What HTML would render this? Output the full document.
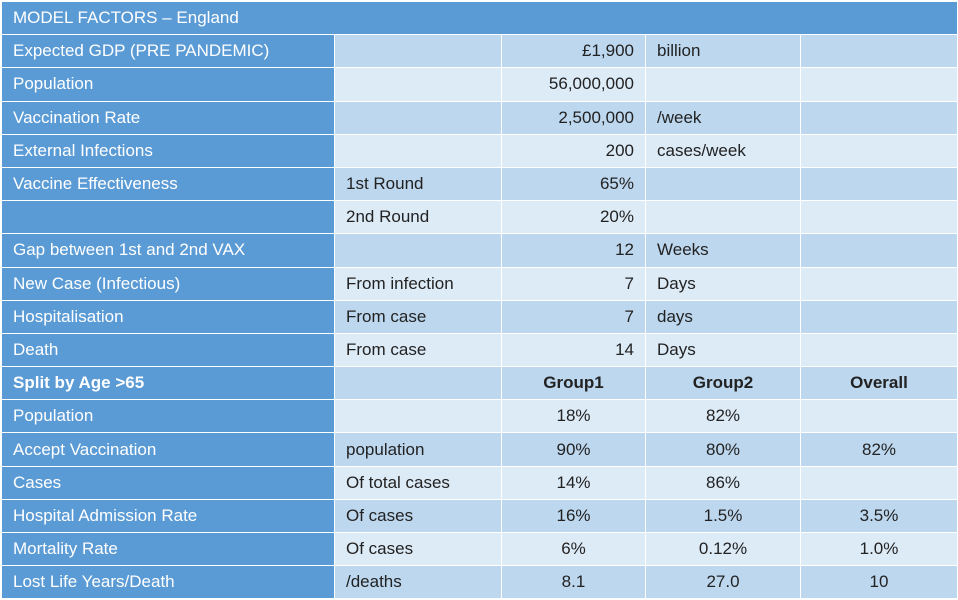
<!DOCTYPE html>
<html><head><meta charset="utf-8"><style>
html,body{margin:0;padding:0;background:#fff;width:958px;height:600px;overflow:hidden}
table{position:absolute;left:1px;top:1px;width:956px;height:598px;border-collapse:collapse;table-layout:fixed;font-family:"Liberation Sans",sans-serif;font-size:17px;color:#222}
tr{height:33.2px}
td{padding:0 11px;border:1px solid #fff;white-space:nowrap;overflow:hidden;box-sizing:border-box}
td.h{background:#5b9bd5;color:#fff}
tr.d td{background:#bdd7ee}
tr.l td{background:#ddebf7}
tr td.h{background:#5b9bd5}
.r{text-align:right}.c{text-align:center}.b{font-weight:bold}
tr.t td{background:#5b9bd5;color:#fff}
</style></head><body>
<table>
<colgroup><col style="width:333px"><col style="width:167px"><col style="width:144px"><col style="width:155px"><col style="width:157px"></colgroup>
<tr class="t"><td colspan="5">MODEL FACTORS – England</td></tr>
<tr class="d"><td class="h">Expected GDP (PRE PANDEMIC)</td><td></td><td class="r">£1,900</td><td>billion</td><td></td></tr>
<tr class="l"><td class="h">Population</td><td></td><td class="r">56,000,000</td><td></td><td></td></tr>
<tr class="d"><td class="h">Vaccination Rate</td><td></td><td class="r">2,500,000</td><td>/week</td><td></td></tr>
<tr class="l"><td class="h">External Infections</td><td></td><td class="r">200</td><td>cases/week</td><td></td></tr>
<tr class="d"><td class="h">Vaccine Effectiveness</td><td>1st Round</td><td class="r">65%</td><td></td><td></td></tr>
<tr class="l"><td class="h"></td><td>2nd Round</td><td class="r">20%</td><td></td><td></td></tr>
<tr class="d"><td class="h">Gap between 1st and 2nd VAX</td><td></td><td class="r">12</td><td>Weeks</td><td></td></tr>
<tr class="l"><td class="h">New Case (Infectious)</td><td>From infection</td><td class="r">7</td><td>Days</td><td></td></tr>
<tr class="d"><td class="h">Hospitalisation</td><td>From case</td><td class="r">7</td><td>days</td><td></td></tr>
<tr class="l"><td class="h">Death</td><td>From case</td><td class="r">14</td><td>Days</td><td></td></tr>
<tr class="d b"><td class="h">Split by Age &gt;65</td><td></td><td class="c">Group1</td><td class="c">Group2</td><td class="c">Overall</td></tr>
<tr class="l"><td class="h">Population</td><td></td><td class="c">18%</td><td class="c">82%</td><td></td></tr>
<tr class="d"><td class="h">Accept Vaccination</td><td>population</td><td class="c">90%</td><td class="c">80%</td><td class="c">82%</td></tr>
<tr class="l"><td class="h">Cases</td><td>Of total cases</td><td class="c">14%</td><td class="c">86%</td><td></td></tr>
<tr class="d"><td class="h">Hospital Admission Rate</td><td>Of cases</td><td class="c">16%</td><td class="c">1.5%</td><td class="c">3.5%</td></tr>
<tr class="l"><td class="h">Mortality Rate</td><td>Of cases</td><td class="c">6%</td><td class="c">0.12%</td><td class="c">1.0%</td></tr>
<tr class="d"><td class="h">Lost Life Years/Death</td><td>/deaths</td><td class="c">8.1</td><td class="c">27.0</td><td class="c">10</td></tr>
</table>
</body></html>
